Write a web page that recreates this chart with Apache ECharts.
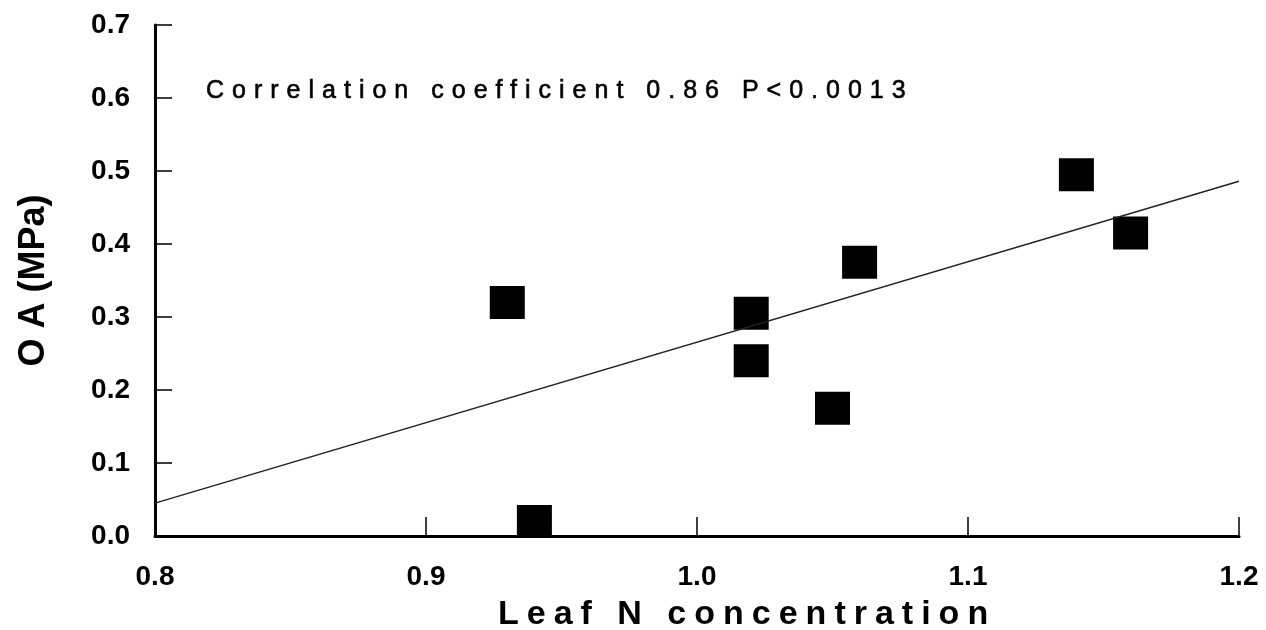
<!DOCTYPE html>
<html>
<head>
<meta charset="utf-8">
<script src="https://cdn.jsdelivr.net/npm/echarts@6/dist/echarts.min.js"></script>
<style>
    html, body {
        margin: 0;
        padding: 0;
        background: #fff;
    }
    .com-container {
        position: relative;
        width: 1266px;
        height: 630px;
    }
    .com-chart {
        width: 100%;
        height: 100%;
    }
    .note {
        position: absolute;
        left: 206px;
        top: 77px;
        font: 25px/25px 'Liberation Sans', Arial, sans-serif;
        letter-spacing: 8px;
        color: #000;
        -webkit-text-stroke: 0.6px #000;
        white-space: nowrap;
    }
    .x_name {
        position: absolute;
        left: 498px;
        top: 595px;
        font: bold 34px/34px 'Liberation Sans', Arial, sans-serif;
        letter-spacing: 8px;
        color: #000;
        white-space: nowrap;
    }
</style>
</head>
<body>
<div class="com-container">
    <div class="com-chart" id="oa_ref"></div>
    <span class="note">Correlation coefficient 0.86 P&lt;0.0013</span>
    <span class="x_name">Leaf N concentration</span>
</div>
<script>
// 叶片氮含量 vs OA
const leafN = [0.93, 0.94, 1.02, 1.02, 1.05, 1.06, 1.14, 1.16]
const oaMPa = [0.32, 0.02, 0.305, 0.24, 0.175, 0.375, 0.495, 0.415]
// 回归线两端
const fitX = [0.8, 1.2]
const fitY = [0.045, 0.486]

const labelFont = 'Liberation Sans, Arial, sans-serif'

const chartInstance = echarts.init(document.getElementById('oa_ref'))

const axisCommon = {
    type: 'value',
    interval: 0.1,
    splitLine: { show: false },
    axisLine: { show: true, lineStyle: { color: '#000', width: 3 } },
    axisTick: { show: true, inside: true, lineStyle: { color: '#000', width: 1.5 } },
    axisLabel: {
        color: '#000',
        fontSize: 28,
        fontWeight: 'bold',
        fontFamily: labelFont,
        showMinLabel: true,
        showMaxLabel: true,
        formatter: v => v.toFixed(1)
    }
}

const option = {
    animation: false,
    grid: { left: 155, right: 27, top: 25, bottom: 94 },
    xAxis: {
        ...axisCommon,
        min: 0.8,
        max: 1.2,
        axisTick: { ...axisCommon.axisTick, length: 19 },
        axisLabel: { ...axisCommon.axisLabel, margin: 27 }
    },
    yAxis: {
        ...axisCommon,
        min: 0,
        max: 0.7,
        axisTick: { ...axisCommon.axisTick, length: 17 },
        axisLabel: { ...axisCommon.axisLabel, margin: 25 },
        name: 'O A (MPa)',
        nameLocation: 'middle',
        nameRotate: 90,
        nameGap: 103,
        nameTextStyle: {
            color: '#000',
            fontSize: 36,
            fontWeight: 'bold',
            fontFamily: labelFont
        }
    },
    series: [
        {
            type: 'line',
            data: fitX.map((x, i) => [x, fitY[i]]),
            showSymbol: false,
            lineStyle: { color: '#222', width: 1.5 },
            silent: true
        },
        {
            type: 'scatter',
            data: leafN.map((x, i) => [x, oaMPa[i]]),
            symbol: 'rect',
            symbolSize: [35, 33],
            itemStyle: { color: '#000', opacity: 1 },
            clip: false
        }
    ]
}
chartInstance.setOption(option)
</script>
</body>
</html>
